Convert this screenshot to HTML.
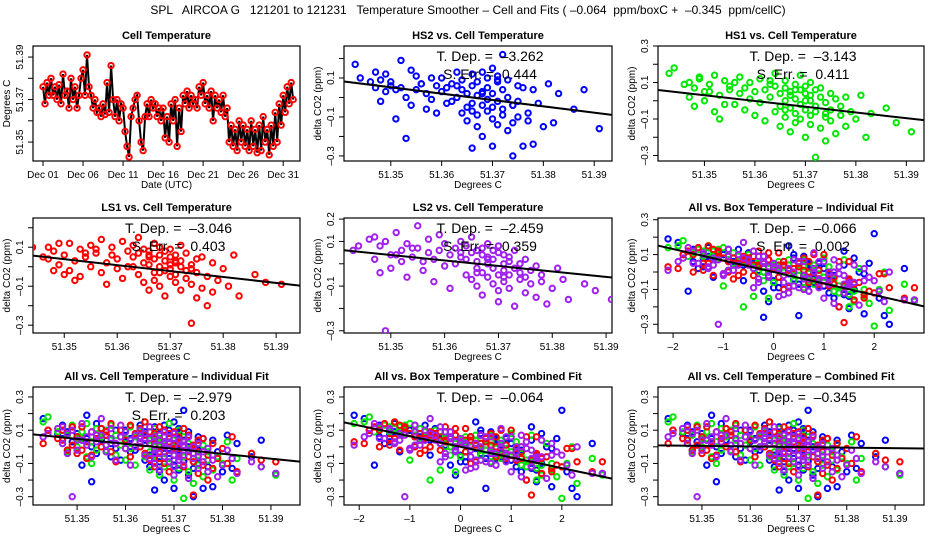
<!DOCTYPE html>
<html><head><meta charset="utf-8"><style>
html,body{margin:0;padding:0;background:#fff}
svg{display:block;font-family:"Liberation Sans",sans-serif}
svg text{white-space:pre}
</style></head><body>
<svg id="chart" width="936" height="540" viewBox="0 0 936 540" xmlns="http://www.w3.org/2000/svg">
<rect x="0" y="0" width="936" height="540" fill="#fff"/>
<text x="468" y="14" font-size="12" text-anchor="middle">SPL   AIRCOA G   121201 to 121231   Temperature Smoother – Cell and Fits ( –0.064  ppm/boxC +  –0.345  ppm/cellC)</text>
</svg>
<script>
// ---- data ----
const tsValues = [
51.376,51.368,51.378,51.372, 51.380,51.372,51.376,51.370, 51.377,51.368,51.382,51.372,
51.374,51.366,51.380,51.370, 51.376,51.366,51.372,51.380, 51.384,51.372,51.391,51.376,
51.372,51.366,51.370,51.364, 51.366,51.362,51.368,51.363, 51.378,51.364,51.386,51.370,
51.362,51.370,51.360,51.368, 51.366,51.355,51.348,51.343, 51.362,51.366,51.370,51.372,
51.360,51.350,51.346,51.362, 51.368,51.362,51.370,51.366, 51.368,51.362,51.366,51.360,
51.366,51.352,51.362,51.350, 51.368,51.360,51.370,51.348, 51.366,51.355,51.372,51.368,
51.374,51.366,51.372,51.368, 51.370,51.366,51.376,51.372, 51.378,51.368,51.372,51.366,
51.374,51.360,51.372,51.366, 51.370,51.364,51.372,51.362, 51.366,51.350,51.358,51.348,
51.356,51.346,51.360,51.350, 51.358,51.348,51.356,51.346, 51.360,51.348,51.356,51.345,
51.358,51.346,51.362,51.350, 51.356,51.344,51.358,51.348, 51.364,51.350,51.368,51.358,
51.372,51.364,51.376,51.368, 51.378,51.370];
const tsStepDays = 0.25;
const dateTicks = [0,5,10,15,20,25,30];
const dateLabels = ["Dec 01","Dec 06","Dec 11","Dec 16","Dec 21","Dec 26","Dec 31"];

const cellTemp = [
51.343,51.347,51.347,51.348,51.348,51.349,51.350,51.350,51.351,51.352,
51.352,51.353,51.353,51.354,51.355,51.355,51.356,51.357,51.357,51.358,
51.358,51.359,51.359,51.360,51.360,51.361,51.361,51.362,51.362,51.363,
51.363,51.364,51.364,51.364,51.365,51.365,51.365,51.366,51.366,51.366,
51.366,51.367,51.367,51.367,51.367,51.368,51.368,51.368,51.368,51.369,
51.369,51.369,51.369,51.370,51.370,51.370,51.370,51.370,51.371,51.371,
51.371,51.371,51.372,51.372,51.372,51.372,51.373,51.373,51.373,51.374,
51.374,51.374,51.375,51.375,51.375,51.376,51.376,51.377,51.377,51.378,
51.378,51.379,51.380,51.381,51.382,51.383,51.386,51.388,51.391,51.344,
51.346,51.349,51.351,51.354,51.356,51.363,51.366,51.368,51.371,51.374];
const boxTemp = [
-1.9,-1.6,-0.4,-1.2,0.6,-1.4,-0.8,0.2,-1.7,0.9,
-2.1,-0.2,1.5,-1.3,-0.6,-1.1,-0.1,0.8,-1.5,0.4,
0.3,-0.9,1.0,-1.0,-0.3,-1.2,0.7,-0.5,1.2,-0.7,
-0.1,0.9,-0.6,-1.3,1.1,0.0,-0.4,1.4,-0.2,0.6,
-0.8,1.2,-0.3,1.6,0.1,-0.9,0.8,0.2,1.3,-0.4,
0.5,-1.0,1.8,0.3,-0.2,1.0,-0.6,2.2,0.4,1.1,
-0.5,1.5,0.1,0.7,2.0,0.0,1.7,-0.1,0.6,1.4,
0.9,2.3,0.2,1.6,0.8,0.5,1.9,1.0,1.3,0.3,
1.8,1.2,2.1,0.6,1.5,2.6,0.9,1.4,2.8,-1.8,
-1.4,-1.1,-0.7,0.4,-0.9,-1.6,0.7,0.1,-0.3,1.1];
const hs2 = [
0.17,0.13,0.05,0.09,-0.02,0.03,0.08,0.06,-0.11,0.05,
0.19,0.00,-0.21,0.14,0.04,0.11,0.07,-0.06,0.02,0.10,
-0.01,0.06,-0.08,0.10,0.03,-0.03,0.05,0.07,-0.02,0.13,
0.00,-0.08,0.04,0.09,-0.12,-0.05,0.02,0.12,-0.26,-0.03,
0.06,-0.15,0.01,0.08,-0.09,0.13,-0.04,0.03,-0.20,0.05,
-0.07,0.10,-0.01,0.15,-0.11,0.02,-0.05,-0.25,0.08,-0.02,
0.11,-0.14,-0.06,0.04,0.22,-0.09,0.00,-0.17,0.09,-0.13,
-0.04,-0.30,0.06,-0.10,-0.02,-0.25,0.05,-0.08,-0.12,0.04,
-0.24,-0.03,-0.15,0.07,-0.13,0.02,-0.06,0.04,-0.16,0.10,
0.08,0.12,0.04,-0.04,0.07,0.06,-0.07,0.02,0.09,-0.04];
const hs1 = [
0.15,0.10,0.02,0.07,-0.03,0.12,0.05,0.00,0.09,-0.06,
0.14,0.03,-0.10,0.11,0.06,0.08,-0.02,0.04,0.13,-0.05,
0.07,0.01,0.10,-0.08,0.05,0.12,-0.01,0.06,-0.11,0.09,
0.02,-0.06,0.08,0.15,-0.03,0.04,-0.14,0.07,0.00,-0.09,
0.11,-0.04,0.05,-0.17,0.03,0.09,-0.07,0.01,-0.12,0.06,
-0.02,0.14,-0.10,0.04,-0.05,0.08,-0.20,0.00,-0.08,0.03,
0.10,-0.13,-0.03,0.06,-0.31,-0.06,0.02,-0.15,0.07,-0.09,
-0.01,-0.22,0.04,-0.11,-0.05,0.01,-0.18,-0.03,-0.08,0.02,
-0.14,-0.06,-0.10,0.03,-0.20,-0.07,-0.04,-0.12,-0.17,0.18,
0.09,0.13,0.05,-0.02,0.10,0.11,-0.05,0.06,0.00,-0.07];
const ls1 = [
0.02,0.10,0.04,-0.02,0.08,0.01,-0.04,0.06,0.12,-0.07,
0.03,0.09,-0.05,0.05,0.00,0.11,0.07,-0.03,0.14,0.02,
-0.09,0.06,0.10,-0.01,0.04,0.13,-0.06,0.08,0.00,0.05,
0.11,-0.04,0.07,0.15,-0.08,0.02,0.09,-0.12,0.05,0.01,
0.08,-0.03,0.12,-0.07,0.04,0.00,0.10,-0.10,0.06,-0.02,
0.03,0.08,-0.15,0.01,0.05,-0.05,0.09,-0.01,0.02,-0.08,
0.06,-0.04,0.11,0.00,-0.12,0.03,-0.06,0.07,-0.02,-0.29,
0.01,-0.09,0.04,-0.16,-0.03,0.05,-0.11,-0.05,-0.20,0.02,
-0.13,-0.07,-0.01,-0.10,0.06,-0.15,-0.04,-0.08,-0.09,0.10,
0.05,0.12,-0.02,0.07,0.09,0.00,0.06,-0.03,0.03,-0.01];
const ls2 = [
0.06,0.12,0.02,0.08,-0.04,0.10,0.04,-0.02,0.14,0.06,
0.01,0.09,-0.06,0.03,0.17,0.07,-0.03,0.11,0.05,-0.08,
0.02,0.13,0.06,-0.01,0.09,0.04,-0.11,0.07,0.00,0.10,
0.03,-0.05,0.08,0.02,-0.07,0.05,0.12,-0.02,0.06,-0.10,
0.01,0.07,-0.04,0.04,-0.14,0.09,0.00,-0.06,0.03,-0.09,
0.06,-0.02,0.02,-0.12,0.05,-0.05,0.08,-0.17,0.00,-0.03,
0.04,-0.08,0.01,-0.11,-0.05,0.03,-0.19,-0.02,0.06,-0.07,
-0.04,0.00,-0.13,-0.06,0.02,-0.09,-0.03,-0.15,-0.01,-0.08,
-0.05,-0.18,-0.11,-0.02,-0.07,-0.16,-0.09,-0.12,-0.16,0.08,
0.11,-0.30,0.04,0.07,0.01,0.05,-0.04,0.02,-0.06,0.00];
const fitSlopes = [-3.262,-3.143,-3.046,-2.459,-0.066,-2.979,-0.064,-0.345];
const fitCenters = [0.0,-0.02,-0.01,0.0,0.0,0.0,0.0,0.0];
const fitErrs = ["0.444","0.411","0.403","0.359","0.002","0.203"];
const tempTicks = [51.35,51.36,51.37,51.38,51.39];
const tempLabels = ["51.35","51.36","51.37","51.38","51.39"];
const boxTicks = [-2,-1,0,1,2];
const boxLabels = ["-2","-1","0","1","2"];

// ---- drawing ----
const NS = "http://www.w3.org/2000/svg";
const svg = document.getElementById('chart');
function mk(tag, parent){ const e=document.createElementNS(NS,tag); parent.appendChild(e); return e; }
const BLUE="#0000ff", GREEN="#00e800", RED="#ff0000", PURPLE="#a020f0";

const cols=[[33,300],[344,612],[658,924]];
const rows=[[46,161],[218,333],[387,505]];
const tempXlim=[51.3408,51.3935], boxXlim=[-2.3,2.99];

const panels=[
 {key:'hs2',c:1,r:0,title:'HS2 vs. Cell Temperature',xlim:tempXlim,ylim:[-0.326,0.264],box:false,ser:[[hs2,BLUE]],fit:0,yl:[0.1,-0.1,-0.3]},
 {key:'hs1',c:2,r:0,title:'HS1 vs. Cell Temperature',xlim:tempXlim,ylim:[-0.33,0.30],box:false,ser:[[hs1,GREEN]],fit:1,yl:[0.3,0.1,-0.1,-0.3]},
 {key:'ls1',c:0,r:1,title:'LS1 vs. Cell Temperature',xlim:[51.3441,51.3945],ylim:[-0.34,0.25],box:false,ser:[[ls1,RED]],fit:2,yl:[0.1,-0.1,-0.3]},
 {key:'ls2',c:1,r:1,title:'LS2 vs. Cell Temperature',xlim:[51.3413,51.3911],ylim:[-0.31,0.205],box:false,ser:[[ls2,PURPLE]],fit:3,yl:[0.2,0.1,-0.1,-0.3]},
 {key:'all-box-ind',c:2,r:1,title:'All vs. Box Temperature – Individual Fit',xlim:boxXlim,ylim:[-0.35,0.31],box:true,ser:[[hs2,BLUE],[hs1,GREEN],[ls1,RED],[ls2,PURPLE]],fit:4,yl:[0.3,0.1,-0.1,-0.3]},
 {key:'all-cell-ind',c:0,r:2,title:'All vs. Cell Temperature – Individual Fit',xlim:[51.3409,51.396],ylim:[-0.35,0.36],box:false,ser:[[hs2,BLUE],[hs1,GREEN],[ls1,RED],[ls2,PURPLE]],fit:5,yl:[0.3,0.1,-0.1,-0.3]},
 {key:'all-box-comb',c:1,r:2,title:'All vs. Box Temperature – Combined Fit',xlim:boxXlim,ylim:[-0.35,0.36],box:true,ser:[[hs2,BLUE],[hs1,GREEN],[ls1,RED],[ls2,PURPLE]],fit:6,yl:[0.3,0.1,-0.1,-0.3]},
 {key:'all-cell-comb',c:2,r:2,title:'All vs. Cell Temperature – Combined Fit',xlim:[51.3409,51.396],ylim:[-0.35,0.36],box:false,ser:[[hs2,BLUE],[hs1,GREEN],[ls1,RED],[ls2,PURPLE]],fit:7,yl:[0.3,0.1,-0.1,-0.3]}
];

function frame(g,key,l,t,r,b,title,xt,xlab,xs,yt,ylab,ys,xtitle,ytitle){
  const bx=mk('rect',g); bx.setAttribute('x',l);bx.setAttribute('y',t);bx.setAttribute('width',r-l);bx.setAttribute('height',b-t);
  bx.setAttribute('fill','none');bx.setAttribute('stroke','#000');bx.setAttribute('stroke-width','1.2');
  
  
  const tt=mk('text',g); tt.textContent=title; tt.setAttribute('x',(l+r)/2); tt.setAttribute('y',t-7);
  tt.setAttribute('text-anchor','middle');tt.setAttribute('font-size','11');tt.setAttribute('font-weight','bold');
  
  
  xt.forEach((v,i)=>{const x=xs(v);
    const tk=mk('line',g);tk.setAttribute('x1',x);tk.setAttribute('x2',x);tk.setAttribute('y1',b);tk.setAttribute('y2',b+5);tk.setAttribute('stroke','#000');
    
    
    const tl=mk('text',g);tl.textContent=xlab[i].replace('-','–');tl.setAttribute('x',x);tl.setAttribute('y',b+17);tl.setAttribute('font-size','10');tl.setAttribute('text-anchor','middle');
    
    
  });
  yt.forEach(v=>{const y=ys(v);
    const tk=mk('line',g);tk.setAttribute('x1',l-5);tk.setAttribute('x2',l);tk.setAttribute('y1',y);tk.setAttribute('y2',y);tk.setAttribute('stroke','#000');
    
    
  });
  ylab.forEach(s=>{const y=ys(parseFloat(s));
    const tl=mk('text',g);tl.textContent=s.replace('-','–');tl.setAttribute('font-size','10');tl.setAttribute('text-anchor','middle');
    tl.setAttribute('transform','translate('+(l-10)+','+y+') rotate(-90)');
    
    
  });
  const xl=mk('text',g);xl.textContent=xtitle;xl.setAttribute('x',(l+r)/2);xl.setAttribute('y',b+27);xl.setAttribute('font-size','10');xl.setAttribute('text-anchor','middle');
  
  
  const yl=mk('text',g);yl.textContent=ytitle;yl.setAttribute('font-size','10');yl.setAttribute('text-anchor','middle');
  yl.setAttribute('transform','translate('+(l-23)+','+((t+b)/2)+') rotate(-90)');
  
  
}
function clip(id,l,t,r,b){
  const cp=mk('clipPath',svg);cp.setAttribute('id',id);
  const rr=mk('rect',cp);rr.setAttribute('x',l);rr.setAttribute('y',t);rr.setAttribute('width',r-l);rr.setAttribute('height',b-t);
}
function dot(g,x,y,color,name){
  const c=mk('circle',g);c.setAttribute('cx',x);c.setAttribute('cy',y);c.setAttribute('r','2.7');
  c.setAttribute('fill','none');c.setAttribute('stroke',color);c.setAttribute('stroke-width','2');
  
  
}

// panel 1: time series
(function(){
  const [l,r]=cols[0],[t,b]=rows[0];
  const xlim=[-1.25,32.1], ylim=[51.3411,51.3952];
  const xs=v=>l+(v-xlim[0])/(xlim[1]-xlim[0])*(r-l);
  const ys=v=>b-(v-ylim[0])/(ylim[1]-ylim[0])*(b-t);
  const g=mk('g',svg);
  
  
  frame(g,'cell-temp',l,t,r,b,'Cell Temperature',dateTicks,dateLabels,xs,[51.35,51.36,51.37,51.38,51.39],['51.39','51.37','51.35'],ys,'Date (UTC)','Degrees C');
  const pts=tsValues.map((v,i)=>xs(i*tsStepDays).toFixed(1)+','+ys(v).toFixed(1)).join(' ');
  const pl=mk('polyline',g);pl.setAttribute('points',pts);pl.setAttribute('fill','none');pl.setAttribute('stroke','#000');pl.setAttribute('stroke-width','2');
  
  
  tsValues.forEach((v,i)=>dot(g,xs(i*tsStepDays),ys(v),RED,'cell-temp-point'));
})();

panels.forEach((p,pi)=>{
  const [l,r]=cols[p.c],[t,b]=rows[p.r];
  const xs=v=>l+(v-p.xlim[0])/(p.xlim[1]-p.xlim[0])*(r-l);
  const ys=v=>b-(v-p.ylim[0])/(p.ylim[1]-p.ylim[0])*(b-t);
  const g=mk('g',svg);
  
  
  clip('clip'+pi,l,t,r,b);
  const yt=[-0.3,-0.2,-0.1,0,0.1,0.2,0.3].filter(v=>v>=p.ylim[0]&&v<=p.ylim[1]);
  frame(g,p.key,l,t,r,b,p.title,p.box?boxTicks:tempTicks,p.box?boxLabels:tempLabels,xs,yt,p.yl.map(v=>v.toFixed(1)),ys,'Degrees C','delta CO2 (ppm)');
  const xd=p.box?boxTemp:cellTemp;
  const pg=mk('g',g);pg.setAttribute('clip-path','url(#clip'+pi+')');
  
  
  p.ser.forEach(([arr,col])=>arr.forEach((v,i)=>dot(pg,xs(xd[i]),ys(v),col,p.key+'-point')));
  const x0=p.box?0:51.366, s=fitSlopes[p.fit], c=fitCenters[p.fit];
  const fl=mk('line',pg);
  fl.setAttribute('x1',xs(p.xlim[0]));fl.setAttribute('y1',ys(c+s*(p.xlim[0]-x0)));
  fl.setAttribute('x2',xs(p.xlim[1]));fl.setAttribute('y2',ys(c+s*(p.xlim[1]-x0)));
  fl.setAttribute('stroke','#000');fl.setAttribute('stroke-width','2');
  
  
  const cx=(l+r)/2+12;
  const a1=mk('text',g);a1.textContent='T. Dep. =  '+s.toFixed(3).replace('-','–');
  a1.setAttribute('x',cx);a1.setAttribute('y',t+15);a1.setAttribute('font-size','14');a1.setAttribute('text-anchor','middle');
  
  
  if(p.fit<6){
    const a2=mk('text',g);a2.textContent='S. Err. =  '+fitErrs[p.fit];
    a2.setAttribute('x',cx);a2.setAttribute('y',t+33);a2.setAttribute('font-size','14');a2.setAttribute('text-anchor','middle');
    
    
  }
});
</script>
</body></html>
